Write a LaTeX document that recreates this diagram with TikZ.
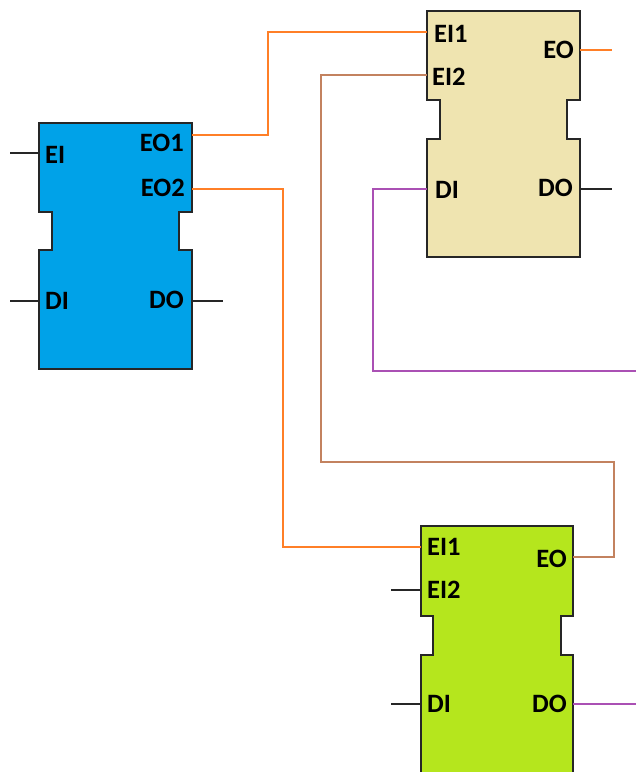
\documentclass[tikz,border=0pt]{standalone}
\usepackage{fontspec}
\setmainfont{Carlito}
\definecolor{fbblue}{RGB}{0,162,232}
\definecolor{fbtan}{RGB}{239,228,176}
\definecolor{fbgreen}{RGB}{181,230,29}
\definecolor{wireorange}{RGB}{255,127,39}
\definecolor{wirebrown}{RGB}{195,130,95}
\definecolor{wirepurple}{RGB}{170,80,180}
\newcommand\fbblock[8]{%
  \draw[blockline, fill=#1] (#2,#4) -- (#3,#4) -- (#3,#6) -- ({#3-#8},#6) -- ({#3-#8},#7) -- (#3,#7) -- (#3,#5)
    -- (#2,#5) -- (#2,#7) -- ({#2+#8},#7) -- ({#2+#8},#6) -- (#2,#6) -- cycle;}
\begin{document}
\begin{tikzpicture}[x=1pt,y=-1pt,
  blockline/.style={draw=black!85, line width=2pt, line join=miter},
  stub/.style={draw=black!85, line width=1.6pt},
  orangewire/.style={draw=wireorange, line width=2pt},
  brownwire/.style={draw=wirebrown, line width=2pt},
  purplewire/.style={draw=wirepurple, line width=2pt},
  portin/.style={anchor=west, inner sep=0pt, font=\fontsize{26.5}{26.5}\selectfont\bfseries, text height=17pt, text depth=0pt},
  portout/.style={anchor=east, inner sep=0pt, font=\fontsize{26.5}{26.5}\selectfont\bfseries, text height=17pt, text depth=0pt}]
\useasboundingbox (0,0) rectangle (636,772);
\clip (0,0) rectangle (636,772);
\fill[white] (0,0) rectangle (636,772);

% blocks
\fbblock{fbblue}{39}{192}{123}{369}{212}{250}{13}
\fbblock{fbtan}{427}{580}{11}{257}{100}{139}{13}
\fbblock{fbgreen}{421}{573}{526}{778}{616}{655}{12}

% labels - blue
\node[portin] (bEIl) at (45,155) {EI};
\node[portin] (bDIl) at (45,301) {DI};
\node[portout] (bEO1l) at (184,143) {EO1};
\node[portout] (bEO2l) at (185,188) {EO2};
\node[portout] (bDOl) at (184,300) {DO};
% labels - tan
\node[portin] (tEI1l) at (434,34) {EI1};
\node[portin] (tEI2l) at (432,77) {EI2};
\node[portout] (tEOl) at (574,50) {EO};
\node[portin] (tDIl) at (435,190) {DI};
\node[portout] (tDOl) at (573,188) {DO};
% labels - green
\node[portin] (gEI1l) at (427,547) {EI1};
\node[portin] (gEI2l) at (427,590) {EI2};
\node[portout] (gEOl) at (567,559) {EO};
\node[portin] (gDIl) at (427,704) {DI};
\node[portout] (gDOl) at (567,704) {DO};

% port points
\coordinate (bEI) at (39,153);   \coordinate (bEIs) at (10,153);
\coordinate (bDI) at (39,301);   \coordinate (bDIs) at (10,301);
\coordinate (bDO) at (192,301);  \coordinate (bDOs) at (223,301);
\coordinate (bEO1) at (192,135);
\coordinate (bEO2) at (192,189);
\coordinate (tEI1) at (427,32);
\coordinate (tEI2) at (427,75);
\coordinate (tEO) at (580,50);   \coordinate (tEOs) at (612,50);
\coordinate (tDI) at (427,189);
\coordinate (tDO) at (580,189);  \coordinate (tDOs) at (612,189);
\coordinate (gEI1) at (421,547);
\coordinate (gEI2) at (421,590); \coordinate (gEI2s) at (391,590);
\coordinate (gEO) at (573,557);
\coordinate (gDI) at (421,704);  \coordinate (gDIs) at (391,704);
\coordinate (gDO) at (573,704);  \coordinate (gDOs) at (636,704);
% bends
\coordinate (j1) at (268,32);
\coordinate (j2) at (283,547);
\coordinate (j3) at (614,462);
\coordinate (j4) at (321,75);
\coordinate (j5) at (373,371);
\coordinate (pEnd) at (636,371);

% stubs
\draw[stub] (bEIs) -- (bEI);
\draw[stub] (bDIs) -- (bDI);
\draw[stub] (bDO) -- (bDOs);
\draw[stub] (tDO) -- (tDOs);
\draw[stub] (gEI2s) -- (gEI2);
\draw[stub] (gDIs) -- (gDI);
\draw[orangewire] (tEO) -- (tEOs);
\draw[purplewire] (gDO) -- (gDOs);

% wires
\draw[orangewire] (bEO1) -| (j1) -- (tEI1);
\draw[orangewire] (bEO2) -| (j2) -- (gEI1);
\draw[brownwire] (gEO) -| (j3) -| (j4) -- (tEI2);
\draw[purplewire] (tDI) -| (j5) -- (pEnd);
\end{tikzpicture}
\end{document}
